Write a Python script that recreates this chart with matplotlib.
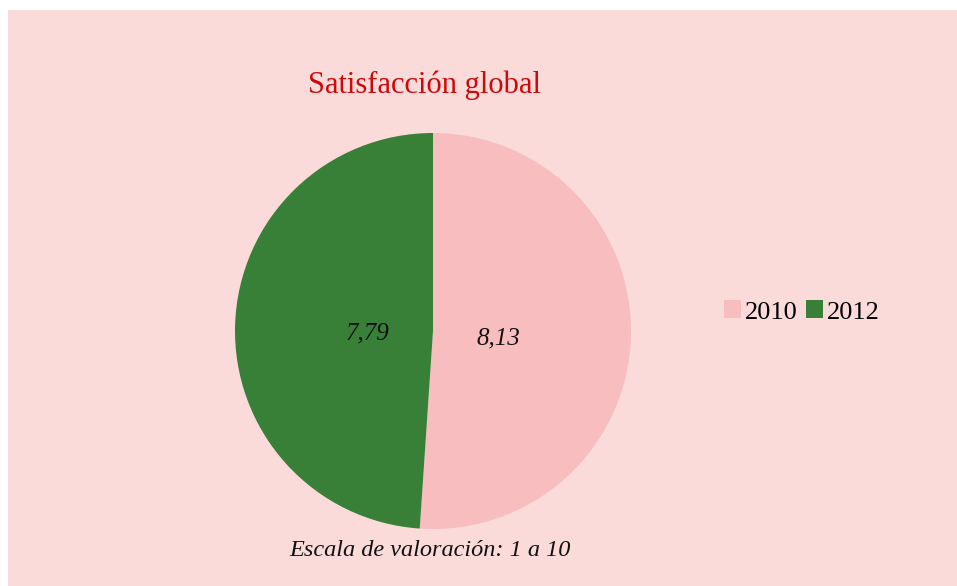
import matplotlib.pyplot as plt
import matplotlib.patches as patches

# Global satisfaction score per survey year
years = ["2010", "2012"]
scores = [8.13, 7.79]
slice_colors = ["#F8BDBE", "#387F37"]

BG_COLOR = "#FADBDA"
W, H = 957, 586

plt.rcParams['font.family'] = ['Liberation Serif', 'DejaVu Serif']

fig = plt.figure(figsize=(W / 100, H / 100), dpi=100)
fig.patch.set_facecolor("white")

# Pink panel framing the chart
fig.add_artist(patches.Rectangle((8 / W, 0), 1 - 8 / W, (H - 10) / H,
                                 transform=fig.transFigure, facecolor=BG_COLOR,
                                 edgecolor="none", zorder=0))

# Pie axes placed in pixel terms: centre (433, 331), radius 198
cx, cy, r = 433, 331, 198
ax = fig.add_axes([(cx - r) / W, (H - cy - r) / H, 2 * r / W, 2 * r / H])
ax.set_facecolor("none")

total = sum(scores)
wedges, texts, autotexts = ax.pie(
    scores, colors=slice_colors, startangle=90, counterclock=False,
    radius=1.0, pctdistance=0.33,
    autopct=lambda p: f"{p * total / 100:.2f}".replace(".", ","),
    wedgeprops=dict(linewidth=0),
    textprops=dict(fontsize=18, style="italic", color="#111111"),
)
# nudge value labels slightly below the slice midline
for t in autotexts:
    x, y = t.get_position()
    t.set_position((x, y - 0.025))
ax.set_xlim(-1, 1)
ax.set_ylim(-1, 1)
ax.axis("off")

fig.text(425 / W, 1 - 85 / H, "Satisfacción global", ha="center", va="center",
         fontsize=22, color="#CC0A0A")

fig.text(430 / W, 1 - 550 / H, "Escala de valoración: 1 a 10", ha="center",
         va="center", fontsize=17.5, style="italic", color="#111111")

fig.legend(wedges, years, loc="center left", bbox_to_anchor=(711 / W, 1 - 312 / H),
           ncol=2, frameon=False, fontsize=19, handlelength=0.65, handleheight=0.65,
           handletextpad=0.15, columnspacing=0.3, borderpad=0)

fig.savefig("out.png", dpi=100, facecolor=fig.get_facecolor())
